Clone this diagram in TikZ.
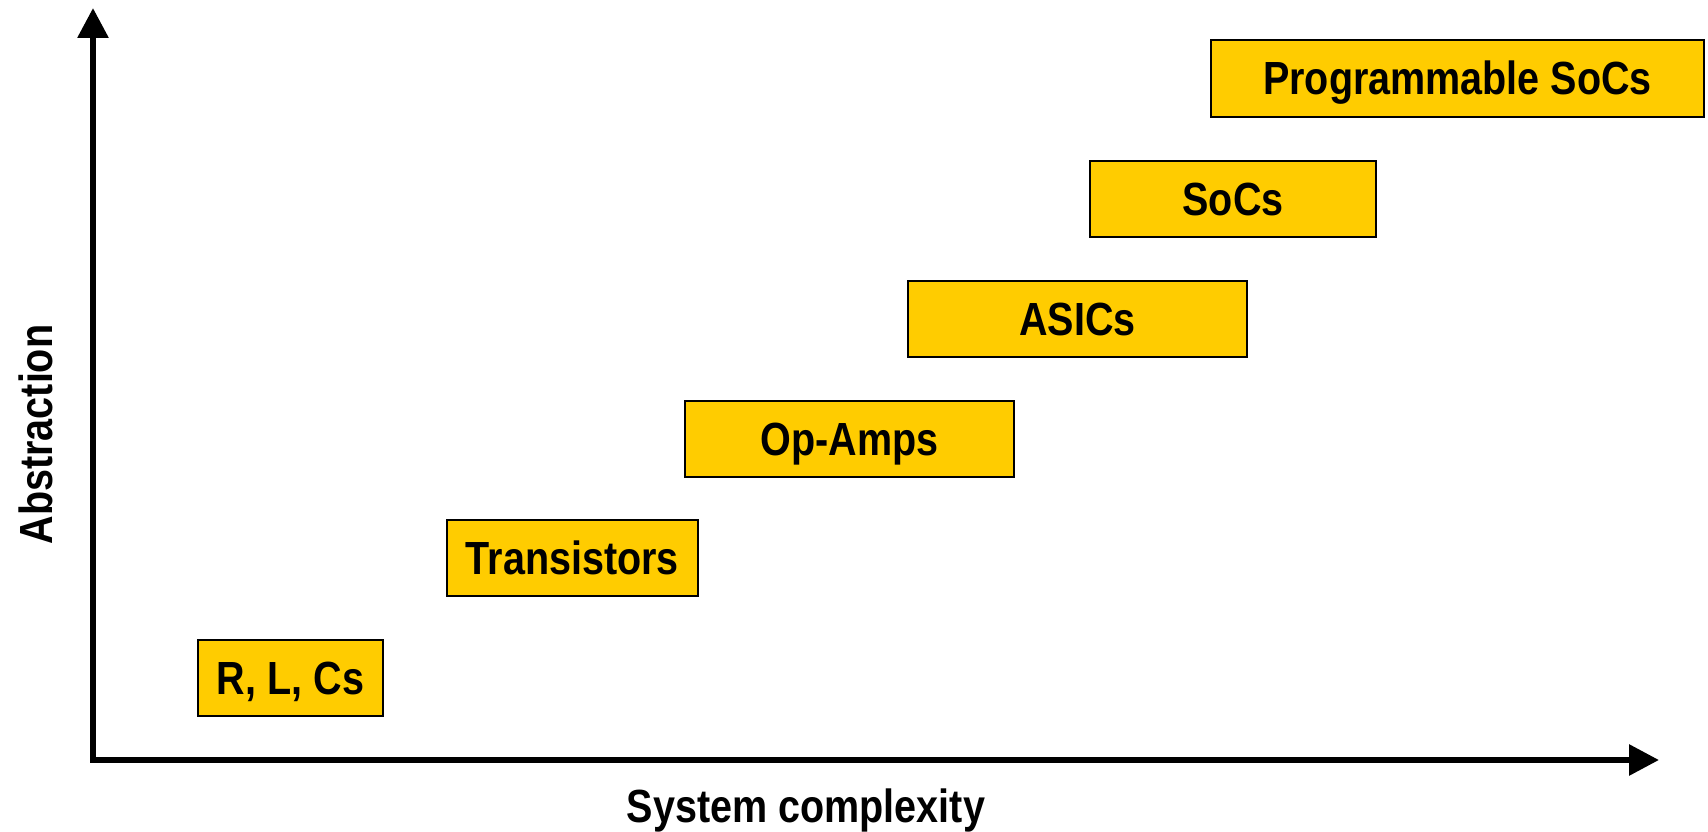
\documentclass[tikz,border=0pt]{standalone}
\usepackage{fontspec}
\newfontfamily\labfont{Liberation Sans}[FakeStretch=0.85]
\usetikzlibrary{arrows.meta}
\definecolor{boxyellow}{RGB}{255,204,0}
\begin{document}
\begin{tikzpicture}[x=1pt,y=-1pt,
  lab/.style={font=\labfont\bfseries\fontsize{46.5}{52}\selectfont, inner sep=0pt},
  block/.style={lab, draw=black, line width=2pt, fill=boxyellow, minimum height=76pt,
    text height=33pt, text depth=0pt},
  axis/.style={line width=6pt, line join=miter,
    {Triangle[length=30pt,width=30pt]}-{Triangle[length=30pt,width=30pt]}}
]
\useasboundingbox (0,0) rectangle (1708,832);
\coordinate (ytip) at (93,8);
\coordinate (xtip) at (1659,760);
\coordinate (orig) at (93,760);
\draw[axis] (ytip) |- (xtip);

\node[block, minimum width=185pt] (rlc) at (290.5,678) {R, L, Cs};
\node[block, minimum width=251pt] (trans) at (572.3,558) {Transistors};
\node[block, minimum width=329pt] (opamp) at (849.5,439) {Op-Amps};
\node[block, minimum width=339pt] (asic) at (1077.5,319) {ASICs};
\node[block, minimum width=286pt] (soc) at (1233,199) {SoCs};
\node[block, minimum width=493pt, minimum height=77pt] (psoc) at (1457.5,78.5) {Programmable SoCs};

\node[lab, anchor=base] (xlab) at (806,822) {System complexity};
\node[lab, anchor=base, rotate=90] (ylab) at (52,434.5) {Abstraction};
\end{tikzpicture}
\end{document}
